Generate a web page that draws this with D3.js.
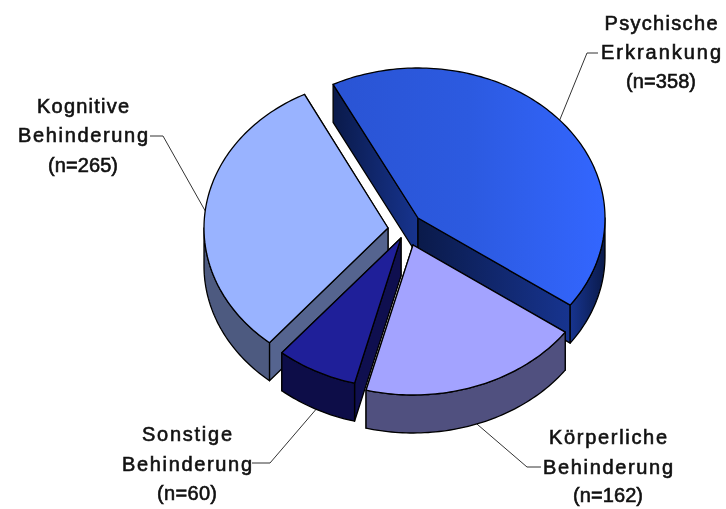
<!DOCTYPE html>
<html><head><meta charset="utf-8">
<script src="https://cdn.jsdelivr.net/npm/d3@7"></script>
<style>html,body{margin:0;background:#fff}svg{display:block;filter:blur(.45px)}</style>
</head><body><svg id="c" width="726" height="509"></svg>
<script>
const categories = ["Psychische Erkrankung","Körperliche Behinderung","Sonstige Behinderung","Kognitive Behinderung"];
const values = [358,162,60,265];
const labelLines = [["Psychische","Erkrankung","(n=358)"],["Körperliche","Behinderung","(n=162)"],["Sonstige","Behinderung","(n=60)"],["Kognitive","Behinderung","(n=265)"]];

// layout (not data)
const W=726,H=509,ry=150,depth=38,center=[403,232];
const radiiX=[187,187,185,184];
const explode=[[15,-14],[10,13],[-2,6],[-15,-4]];
const topFill=["url(#gTop1)","#a3a3ff","#1f1f99","#99b3ff"];
const wallFill=["url(#gWall1)","#50507f","#0f0f4f","#55648f"];
const rimFill=["url(#gRim1)","#50507f","#0d0d48","#4d5a80"];
const labelX=[661,608,187,83];
const labelY=[[30,59,88],[444,474,502],[441,471,500],[113,142,172]];
const labelW=[[113,120,70],[118,130,70],[90,130,60],[92,130,70]];
const elbows=[[[587,53],[598,53]],[[527,467],[541,467]],[[270,463],[252,463]],[[163,136],[150,136]]];
const drawOrder=[0,3,1,2];

const svg=d3.select("#c");
const defs=svg.append("defs");
function grad(id,stops){const g=defs.append("linearGradient").attr("id",id);
  stops.forEach((c,i)=>g.append("stop").attr("offset",i/(stops.length-1)).attr("stop-color",c));}
grad("gTop1",["#2a54d4","#2c5ae0","#3366ff"]);
grad("gWall1",["#0a1a4a","#17348f"]);
grad("gRim1",["#17348f","#0a1a4a"]);

const pie=d3.pie().sort(null).startAngle(-27*Math.PI/180).endAngle(333*Math.PI/180);
const arcs=pie(values);
const sy=d3.scaleLinear().domain([-1,1]).range([ry,-ry]);
const pt=(a,c,i,dz=0)=>[c[0]+d3.scaleLinear().domain([-1,1]).range([-radiiX[i],radiiX[i]])(Math.sin(a)),c[1]+sy(Math.cos(a))+dz];
const line=d3.line();
const samples=(a0,a1)=>{const n=Math.max(2,Math.ceil(Math.abs(a1-a0)/0.02));return d3.range(n+1).map(i=>a0+(a1-a0)*i/n);};

const style=s=>s.attr("stroke","#000").attr("stroke-width",1.3).attr("stroke-linejoin","round");
const apexes=explode.map(e=>[center[0]+e[0],center[1]+e[1]]);

// leaders first, under the pie
arcs.forEach((d,i)=>{
  const m=(d.startAngle+d.endAngle)/2, low=Math.cos(m)<0;
  const p=pt(m,apexes[i],i,low?depth:0);
  svg.append("path").attr("d",line([p,...elbows[i]])).attr("fill","none").attr("stroke","#333").attr("stroke-width",1);
});

const g=svg.append("g");
drawOrder.forEach(i=>{
  const d=arcs[i],c=apexes[i],a0=d.startAngle,a1=d.endAngle;
  const wall=a=>[c,pt(a,c,i),pt(a,c,i,depth),[c[0],c[1]+depth]];
  [a0,a1].sort((p,q)=>Math.cos(q)-Math.cos(p)).forEach(a=>{
    style(g.append("path").attr("d",line(wall(a))+"Z").attr("fill",wallFill[i]));
  });
  const r0=Math.max(a0,Math.PI/2), r1=Math.min(a1,Math.PI*1.5);
  if(r1>r0){
    const s=samples(r0,r1);
    const rim=[...s.map(a=>pt(a,c,i)),...s.slice().reverse().map(a=>pt(a,c,i,depth))];
    style(g.append("path").attr("d",line(rim)+"Z").attr("fill",rimFill[i]));
  }
  const top=[c,...samples(a0,a1).map(a=>pt(a,c,i))];
  style(g.append("path").attr("d",line(top)+"Z").attr("fill",topFill[i]));
});

arcs.forEach((d,i)=>{
  labelLines[i].forEach((t,k)=>{
    svg.append("text").attr("x",labelX[i]).attr("y",labelY[i][k]).attr("text-anchor","middle")
      .attr("font-family","Liberation Sans, Arial, sans-serif").attr("font-size",20)
      .attr("textLength",labelW[i][k]).attr("lengthAdjust","spacing")
      .attr("fill","#111").attr("stroke","#111").attr("stroke-width",.6).text(t);
  });
});
</script></body></html>
